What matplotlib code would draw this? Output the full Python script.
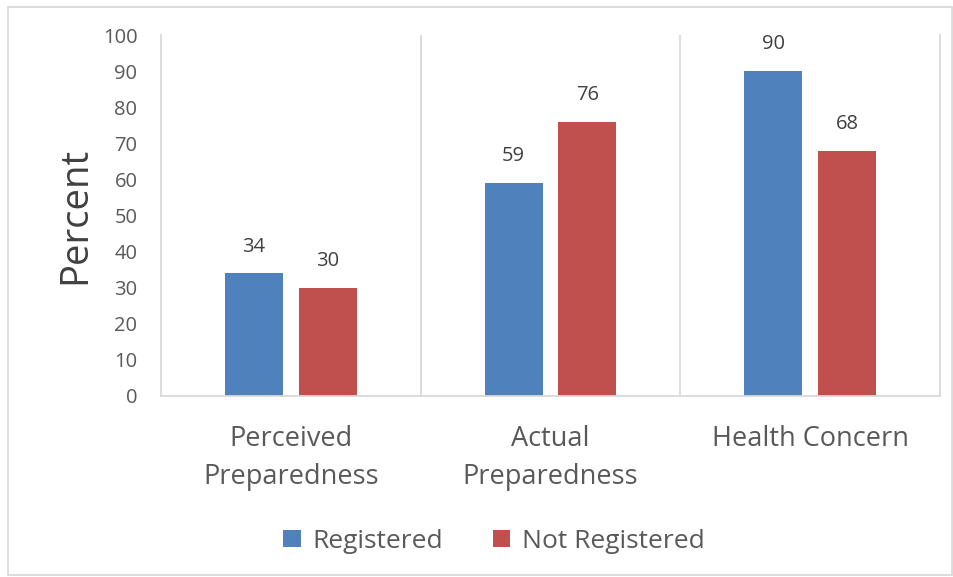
import matplotlib.pyplot as plt
import numpy as np
from matplotlib.patches import Rectangle

categories = ["Perceived\nPreparedness", "Actual\nPreparedness", "Health Concern"]
registered = [34, 59, 90]
not_registered = [30, 76, 68]
series_names = ["Registered", "Not Registered"]

blue = "#4f81bd"
red = "#c0504d"
txt = "#595959"
grid = "#d9d9d9"

plt.rcParams['font.family'] = ['Open Sans', 'DejaVu Sans']

fig = plt.figure(figsize=(9.54, 5.77), dpi=100)
ax = fig.add_axes([0.1688, 0.3137, 0.8165, 0.6256])

x = np.arange(len(categories))
w = 0.223
off = 0.142
b1 = ax.bar(x - off, registered, w, color=blue, label=series_names[0])
b2 = ax.bar(x + off, not_registered, w, color=red, label=series_names[1])

for bars in (b1, b2):
    for b in bars:
        ax.annotate(f"{b.get_height():g}", (b.get_x() + b.get_width() / 2, b.get_height()),
                    xytext=(0, 12), textcoords="offset points", ha="center", va="bottom",
                    fontsize=14.5, color="#404040")

ax.set_xlim(-0.5, 2.5)
ax.set_ylim(0, 100)
ax.set_yticks(range(0, 101, 10))
ax.set_xticks(x)
ax.set_xticklabels(categories, fontsize=19.5, color=txt, linespacing=1.45)
ax.tick_params(axis="y", labelsize=14.5, colors=txt, length=0, pad=17)
ax.tick_params(axis="x", length=0, pad=21)

# vertical separators between categories
for xv in [0.5, 1.5]:
    ax.axvline(xv, color=grid, lw=1.3, zorder=0)
for s in ["left", "right", "bottom"]:
    ax.spines[s].set_color(grid)
    ax.spines[s].set_linewidth(1.3)
ax.spines["top"].set_visible(False)

ax.set_ylabel("Percent", fontsize=27.5, color="#404040", labelpad=6)

leg = fig.legend(loc="center", bbox_to_anchor=(0.518, 0.062), ncol=2, frameon=False,
                 fontsize=19, handlelength=0.65, handleheight=0.65, columnspacing=1.9,
                 handletextpad=0.45)
for t in leg.get_texts():
    t.set_color(txt)

fig.patches.append(Rectangle((0.008, 0.003), 0.99, 0.985, transform=fig.transFigure,
                             fill=False, edgecolor=grid, lw=1.3))

fig.savefig("out.png", dpi=100)
